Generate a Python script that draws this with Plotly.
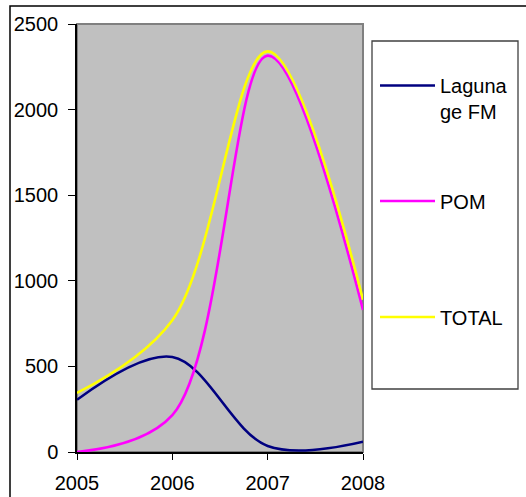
import plotly.graph_objects as go

years = [2005, 2006, 2007, 2008]
laguna = [305, 555, 35, 60]
pom = [0, 215, 2315, 830]
total = [345, 770, 2340, 890]

names = ["Laguna<br>ge FM", "POM", "TOTAL"]
colors = ["#000080", "#FF00FF", "#FFFF00"]
series = [laguna, pom, total]
ytick_vals = [0, 500, 1000, 1500, 2000, 2500]

W, H = 526, 497
# plot area edges in page pixels
L, R, T, B = 77, 363, 24, 452

def px(x):
    return (x - L) / (R - L)

def py(y):
    return (B - y) / (B - T)

font_family = "Liberation Sans, Arial, sans-serif"

fig = go.Figure()
legend_ids = ["legend", "legend2", "legend3"]
for name, col, vals, lg in zip(names, colors, series, legend_ids):
    fig.add_trace(go.Scatter(
        x=years, y=vals, name=name, mode="lines",
        line=dict(color=col, width=2.6, shape="spline", smoothing=1.0),
        legend=lg,
    ))

legend_common = dict(
    bgcolor="rgba(0,0,0,0)", borderwidth=0, visible=True, itemwidth=55,
    font=dict(family=font_family, size=20, color="#000000"),
    xanchor="left", yanchor="middle", valign="top",
)

fig.update_layout(
    width=W, height=H,
    margin=dict(l=L, r=W - R, t=T, b=H - B, pad=0, autoexpand=False),
    showlegend=True,
    paper_bgcolor="#FFFFFF",
    plot_bgcolor="#C0C0C0",
    font=dict(family=font_family, size=20, color="#000000"),
    legend=dict(x=px(375), y=py(98.5), **legend_common),
    legend2=dict(x=px(375), y=py(201), **legend_common),
    legend3=dict(x=px(375), y=py(317), **legend_common),
    xaxis=dict(
        range=[2005, 2008], tickvals=years, ticktext=[str(y) for y in years],
        showgrid=False, zeroline=False, showline=True, linecolor="#000000",
        linewidth=1.5, ticks="outside", ticklen=6, tickcolor="#000000",
        tickwidth=1.2, ticklabelstandoff=6, automargin=False,
        tickfont=dict(family=font_family, size=20, color="#000000"),
    ),
    yaxis=dict(
        range=[0, 2500], tickvals=ytick_vals,
        showgrid=False, zeroline=False, showline=True, linecolor="#000000",
        linewidth=1.5, ticks="outside", ticklen=7, tickcolor="#000000",
        tickwidth=1.2, ticklabelstandoff=6, automargin=False,
        tickfont=dict(family=font_family, size=20, color="#000000"),
    ),
    shapes=[
        # plot area border
        dict(type="rect", xref="paper", yref="paper", x0=0, x1=1, y0=0, y1=1,
             line=dict(color="#808080", width=2), layer="below"),
        # outer chart frame
        dict(type="rect", xref="paper", yref="paper",
             x0=px(10), x1=px(540), y0=py(510), y1=py(6),
             line=dict(color="#000000", width=1.5), layer="above"),
        # legend box
        dict(type="rect", xref="paper", yref="paper",
             x0=px(372), x1=px(518), y0=py(389), y1=py(41),
             line=dict(color="#404040", width=1.3), layer="above"),
    ],
)

fig.write_html(
    "out.html",
    config={"displayModeBar": False},
    post_script="document.body.style.margin='0';document.body.style.overflow='hidden';",
)
